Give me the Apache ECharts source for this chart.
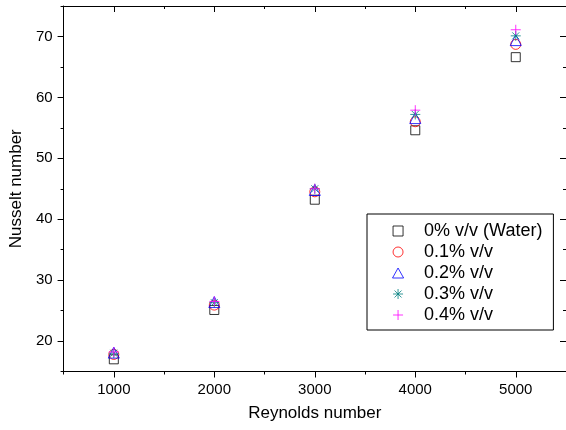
<!DOCTYPE html>
<html>
<head>
<meta charset="utf-8">
<script src="https://cdn.jsdelivr.net/npm/echarts@6/dist/echarts.min.js"></script>
<style>
  html, body { margin: 0; padding: 0; background: #fff; }
  #chart { width: 566px; height: 430px; }
</style>
</head>
<body>
<div id="chart"></div>
<script>
// Reynolds number vs Nusselt number, per concentration
const reynolds = [1000, 2000, 3000, 4000, 5000]
const water    = [17.0, 25.1, 43.2, 54.6, 66.6]
const conc01   = [17.8, 25.9, 44.5, 56.0, 68.7]
const conc02   = [18.1, 26.4, 44.8, 56.6, 69.4]
const conc03   = [18.0, 26.3, 45.0, 57.2, 70.1]
const conc04   = [18.2, 26.5, 45.0, 57.9, 71.1]
const seriesNames = ['0% v/v (Water)', '0.1% v/v', '0.2% v/v', '0.3% v/v', '0.4% v/v']

const FONT = 'Liberation Sans, Arial, sans-serif'
const SQUARE = 'path://M0,0L10,0L10,10L0,10Z'
const TRI    = 'path://M5,0L10,9L0,9Z'
const STAR   = 'path://M5,0L5,10M0,5L10,5M1.5,1.5L8.5,8.5M1.5,8.5L8.5,1.5'
const PLUS   = 'path://M5,0L5,10M0,5L10,5'

const X_MIN = 500, X_MAX = 5500
const Y_MIN = 15, Y_MAX = 75

function pts(vals) { return reynolds.map((r, i) => [r, vals[i]]) }

function sc(name, vals, symbol, size, color) {
  return {
    name, type: 'scatter', data: pts(vals), symbol, symbolSize: size,
    itemStyle: { color: 'transparent', borderColor: color, borderWidth: 1 },
    emphasis: { disabled: true },
  }
}

// major axis (labels + long ticks) and a bare axis that only carries short minor ticks
function xMajor(pos, inside, labels) {
  return {
    type: 'value', position: pos, min: X_MIN, max: X_MAX, splitNumber: 5,
    axisLine: { show: true, onZero: false, lineStyle: { color: '#000', width: 1 } },
    axisTick: { show: true, inside, length: 6, lineStyle: { color: '#000' } },
    axisLabel: { show: labels, color: '#000', fontSize: 15, fontFamily: FONT, margin: 11,
      showMinLabel: false, showMaxLabel: false, formatter: v => String(v) },
    splitLine: { show: false },
  }
}
function xMinor(pos, inside) {
  return {
    type: 'value', position: pos, min: X_MIN, max: X_MAX, interval: 500,
    axisLine: { show: false, onZero: false },
    axisTick: { show: true, inside, length: 3, lineStyle: { color: '#000' } },
    axisLabel: { show: false }, splitLine: { show: false },
  }
}
function yMajor(pos, inside, labels) {
  return {
    type: 'value', position: pos, min: Y_MIN, max: Y_MAX, splitNumber: 6,
    axisLine: { show: true, onZero: false, lineStyle: { color: '#000', width: 1 } },
    axisTick: { show: true, inside, length: 6, lineStyle: { color: '#000' } },
    axisLabel: { show: labels, color: '#000', fontSize: 15, fontFamily: FONT, margin: 11,
      showMinLabel: false, showMaxLabel: false, formatter: v => String(v) },
    splitLine: { show: false },
  }
}
function yMinor(pos, inside) {
  return {
    type: 'value', position: pos, min: Y_MIN, max: Y_MAX, interval: 5,
    axisLine: { show: false, onZero: false },
    axisTick: { show: true, inside, length: 3, lineStyle: { color: '#000' } },
    axisLabel: { show: false }, splitLine: { show: false },
  }
}

const xBottom = Object.assign(xMajor('bottom', false, true), {
  name: 'Reynolds number', nameLocation: 'middle', nameGap: 33,
  nameTextStyle: { color: '#000', fontSize: 17, fontFamily: FONT },
})
const yLeft = Object.assign(yMajor('left', false, true), {
  name: 'Nusselt number', nameLocation: 'middle', nameGap: 37,
  nameTextStyle: { color: '#000', fontSize: 17, fontFamily: FONT },
})

const legendIcons = [SQUARE, 'circle', TRI, STAR, PLUS]

const option = {
  animation: false,
  backgroundColor: '#fff',
  grid: { left: 61, top: 6, right: -3, bottom: 58.5, containLabel: false },
  xAxis: [xBottom, xMinor('bottom', false), xMajor('top', true, false), xMinor('top', true)],
  yAxis: [yLeft, yMinor('left', false), yMajor('right', true, false), yMinor('right', true)],
  legend: {
    orient: 'vertical', left: 367, top: 214,
    padding: [7, 11, 5, 25],
    backgroundColor: '#fff', borderColor: '#000', borderWidth: 1, borderRadius: 0,
    itemWidth: 42, itemHeight: 10, itemGap: 1, symbolKeepAspect: true,
    itemStyle: { borderWidth: 1 },
    textStyle: { color: '#000', fontSize: 18, fontFamily: FONT, lineHeight: 20 },
    data: seriesNames.map((n, i) => ({ name: n, icon: legendIcons[i] })),
  },
  series: [
    sc(seriesNames[0], water,  SQUARE, 9,  '#000000'),
    sc(seriesNames[1], conc01, 'circle', 10, '#ff0000'),
    sc(seriesNames[2], conc02, TRI,    11, '#0000ff'),
    sc(seriesNames[3], conc03, STAR,   10, '#008080'),
    sc(seriesNames[4], conc04, PLUS,   10, '#ff00ff'),
  ],
}

const chart = echarts.init(document.getElementById('chart'), null, { renderer: 'canvas' })
chart.setOption(option)
</script>
</body>
</html>
